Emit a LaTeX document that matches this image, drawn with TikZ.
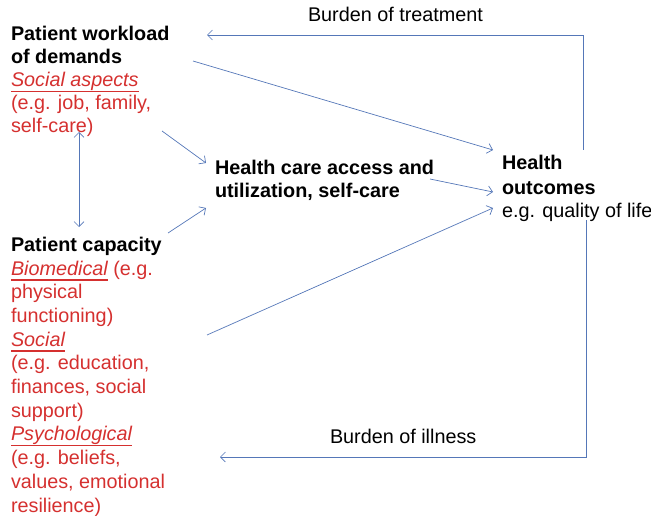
\documentclass[tikz,border=0pt]{standalone}
\usepackage{fontspec}
\setmainfont{Liberation Sans}
\usetikzlibrary{arrows.meta}
\definecolor{linkblue}{HTML}{5577B8}
\definecolor{txtred}{HTML}{D5302F}
\newcommand{\redul}[1]{{\color{txtred}\setbox0\hbox{\itshape #1}\rlap{\rule[-5.5pt]{\wd0}{1.6pt}}\box0}}
\tikzset{
  lbl/.style={inner sep=0pt, outer sep=0pt, anchor=base west, align=left, font=\fontsize{19.8}{#1}\selectfont},
  lbl/.default=23.5,
  conn/.style={draw=linkblue, line width=0.7pt, -{Straight Barb[length=5pt,width=10pt]}},
  conn2/.style={draw=linkblue, line width=0.7pt, {Straight Barb[length=5pt,width=10pt]}-{Straight Barb[length=5pt,width=10pt]}}
}
\begin{document}
\begin{tikzpicture}[x=1pt,y=-1pt]
\useasboundingbox (0,0) rectangle (651,516);
% text nodes (anchor = baseline of last line)
\node[lbl=23.1] (work) at (11,133) {\textbf{Patient workload}\\\textbf{of demands}\\\redul{Social aspects}\\{\color{txtred}(e.g. job, family,}\\{\color{txtred}self-care)}};
\node[lbl=23.7] (cap) at (11,512) {\textbf{Patient capacity}\\\redul{Biomedical}\ {\color{txtred}(e.g.}\\{\color{txtred}physical}\\{\color{txtred}functioning)}\\\redul{Social}\\{\color{txtred}(e.g. education,}\\{\color{txtred}finances, social}\\{\color{txtred}support)}\\\redul{Psychological}\\{\color{txtred}(e.g. beliefs,}\\{\color{txtred}values, emotional}\\{\color{txtred}resilience)}};
\node[lbl=23] (hc) at (215,197) {\textbf{Health care access and}\\\textbf{utilization, self-care}};
\node[lbl=24] (out) at (502,218) {\textbf{Health}\\\textbf{outcomes}\\e.g. quality of life};
\node[lbl] (bt) at (308,22) {Burden of treatment};
\node[lbl] (bi) at (330,443) {Burden of illness};
% connector end points
\coordinate (t1) at (583,150);
\coordinate (t2) at (583,35);
\coordinate (t3) at (207,35);
\coordinate (w1) at (193,61);
\coordinate (o1) at (493,150);
\coordinate (w2) at (162,131);
\coordinate (h1) at (206,163);
\coordinate (c1) at (168,233);
\coordinate (h2) at (206,208);
\coordinate (d1) at (79,132);
\coordinate (d2) at (79,227);
\coordinate (h3) at (430,179);
\coordinate (o2) at (493,192);
\coordinate (c2) at (207,335);
\coordinate (o3) at (493,208);
\coordinate (i1) at (586,220);
\coordinate (i2) at (586,457);
\coordinate (i3) at (220,457);
% connectors
\draw[conn] (t1) -- (t2) -- (t3);
\draw[conn] (w1) -- (o1);
\draw[conn] (w2) -- (h1);
\draw[conn] (c1) -- (h2);
\draw[conn2] (d1) -- (d2);
\draw[conn] (h3) -- (o2);
\draw[conn] (c2) -- (o3);
\draw[conn] (i1) -- (i2) -- (i3);
\end{tikzpicture}
\end{document}
